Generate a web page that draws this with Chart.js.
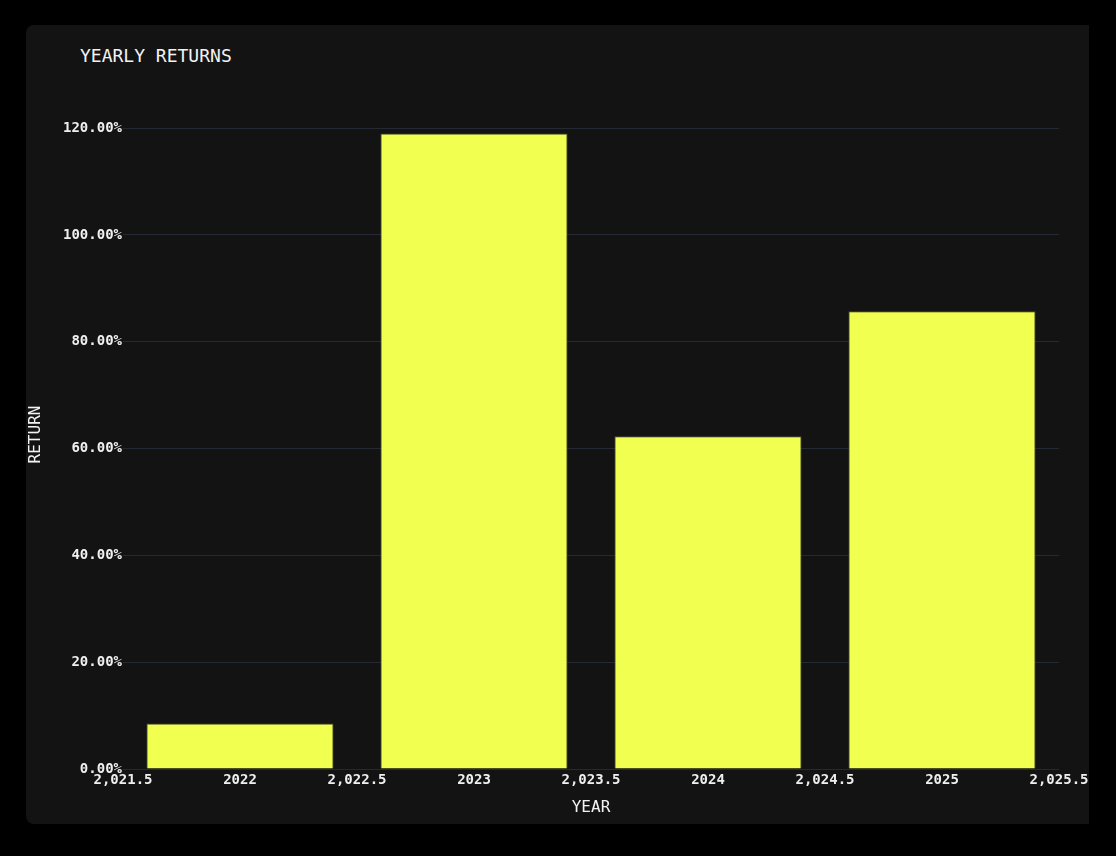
<!DOCTYPE html>
<html>
<head>
<meta charset="utf-8">
<script src="https://cdn.jsdelivr.net/npm/chart.js@4"></script>
<style>
  html, body { margin: 0; padding: 0; background: #000; overflow: hidden; }
  body { width: 1116px; height: 856px; position: relative; }
  .card {
    position: absolute; left: 26px; top: 25px; width: 1063px; height: 799px;
    background: #131313; border-radius: 8px 0 0 8px;
  }
  .title {
    position: absolute; left: 54px; top: 20px;
    font: 18px "DejaVu Sans Mono", monospace; color: #f2f2f2;
  }
  canvas { position: absolute; left: 0; top: 0; }
</style>
</head>
<body>
<div class="card">
  <div class="title">YEARLY RETURNS</div>
  <canvas id="returnsChart" width="1063" height="799"></canvas>
</div>
<script>
// data
const years = [2022, 2023, 2024, 2025];
const returns = [8.5, 119.0, 62.3, 85.7]; // percent

Chart.defaults.font.family = '"DejaVu Sans Mono", monospace';
Chart.defaults.color = "#efefef";

function yearLabel(v) {
  return Number.isInteger(v) ? String(v) : v.toLocaleString("en-US", { minimumFractionDigits: 1 });
}

new Chart(document.getElementById("returnsChart"), {
  type: "bar",
  data: {
    datasets: [
      {
        data: years.map((y, i) => ({ x: y, y: returns[i] })),
        backgroundColor: "#f1ff50",
        borderColor: "#4c4c3e",
        borderWidth: 1,
        // min sample gap is the half-year tick spacing
        categoryPercentage: 1,
        barPercentage: 1.6,
      },
    ],
  },
  options: {
    responsive: false,
    animation: false,
    layout: { padding: { left: 0, right: 30, top: 75, bottom: 1 } },
    plugins: {
      legend: { display: false },
      tooltip: { enabled: false },
    },
    scales: {
      x: {
        type: "linear",
        offset: false,
        min: 2021.5,
        max: 2025.5,
        grid: { display: false, drawTicks: false, tickLength: 0 },
        border: { display: false },
        afterFit: (scale) => {
          scale.paddingLeft = 0;
          scale.paddingRight = 0;
        },
        ticks: {
          stepSize: 0.5,
          autoSkip: false,
          maxRotation: 0,
          padding: 3,
          color: "#efefef",
          font: { size: 14, weight: "bold" },
          callback: (v) => yearLabel(v),
        },
        title: {
          display: true,
          text: "YEAR",
          color: "#f2f2f2",
          font: { size: 16 },
          padding: { top: 6, bottom: 6 },
        },
      },
      y: {
        min: 0,
        max: 125.25,
        grid: { color: "#252934", drawTicks: false, tickLength: 0 },
        border: { display: false },
        afterBuildTicks: (scale) => {
          scale.ticks = scale.ticks.filter((t) => t.value <= 120);
        },
        afterFit: (scale) => {
          scale.width = 97;
        },
        ticks: {
          stepSize: 20,
          padding: 1,
          color: "#efefef",
          font: { size: 14, weight: "bold" },
          callback: (v) => v.toFixed(2) + "%",
        },
        title: {
          display: true,
          text: "RETURN",
          color: "#f2f2f2",
          font: { size: 16 },
          padding: { top: 0, bottom: 0 },
        },
      },
    },
  },
});
</script>
</body>
</html>
